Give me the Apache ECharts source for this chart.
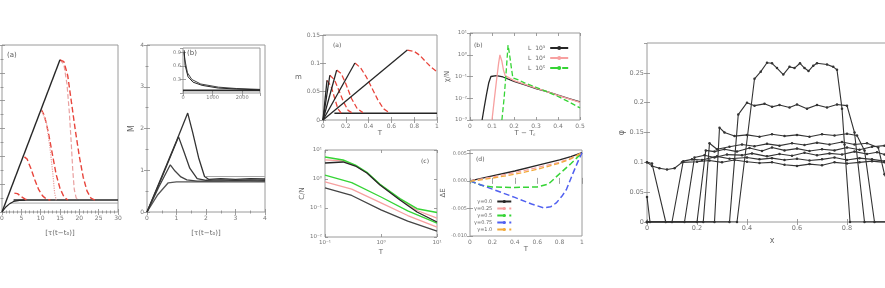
<!DOCTYPE html>
<html><head><meta charset="utf-8">
<script src="https://cdn.jsdelivr.net/npm/echarts@6/dist/echarts.min.js"></script>
<style>html,body{margin:0;padding:0;background:#fff}#c{width:885px;height:288px}</style>
</head><body><div id="c"></div>
<script>
// ---------- DATA ----------
// left panel (a)
const la_rise = [[0,0],[15,5.47]];
const la_low = [[0,0],[1,0.18],[2,0.3],[3,0.38],[4.5,0.42],[6,0.43]];
const la_base = [[3,0.43],[30,0.43]];
const la_gray = [[2,0.32],[30,0.32]];
const la_red1 = [[15,5.47],[16,5.3],[16.8,4.6],[17.4,3.6],[17.9,2.5],[18.3,1.5],[18.7,0.8],[19.2,0.5],[20,0.43]];
const la_red2 = [[15,5.47],[16,5.4],[17,4.9],[18,3.9],[19,2.9],[20,2.0],[21,1.25],[22,0.75],[23,0.5],[24,0.43]];
const la_red3 = [[10.2,3.67],[11,3.45],[12,2.85],[13,2.1],[14,1.35],[15,0.85],[16,0.55],[17,0.43]];
const la_gray3 = [[10.2,3.67],[11.5,3.2],[12.5,2.2],[13.2,1.3],[13.6,0.7],[14,0.43]];
const la_red4 = [[5.8,1.98],[6.5,1.9],[7.5,1.55],[8.5,1.15],[9.5,0.8],[10.5,0.58],[11.5,0.46],[12.5,0.43]];
const la_red5 = [[3.2,0.68],[4,0.66],[5,0.55],[6,0.46],[7,0.43]];
// left panel (b)
const lb1 = [[0,0],[0.5,0.85],[1.0,1.7],[1.38,2.37],[1.55,1.9],[1.75,1.3],[1.95,0.85],[2.1,0.78],[2.5,0.8],[3,0.78],[3.5,0.8],[4,0.79]];
const lb2 = [[0,0],[0.5,0.82],[1.07,1.8],[1.25,1.45],[1.45,1.05],[1.7,0.8],[2.0,0.76],[2.5,0.77],[3,0.76],[3.5,0.77],[4,0.76]];
const lb3 = [[0,0],[0.4,0.6],[0.79,1.13],[0.95,0.98],[1.15,0.84],[1.35,0.77],[1.7,0.74],[2.5,0.74],[3,0.75],[4,0.74]];
const lb4 = [[0,0],[0.35,0.4],[0.72,0.7],[1.0,0.72],[1.5,0.72],[2.5,0.72],[4,0.72]];
const lb_gray = [[2.0,0.85],[4,0.85]];
// inset
const lbi1 = [[40,0.95],[70,0.62],[170,0.36],[340,0.24],[645,0.17],[1190,0.11],[1760,0.09],[2600,0.07]];
const lbi2 = [[30,0.9],[60,0.75],[150,0.45],[300,0.3],[600,0.2],[1200,0.13],[1800,0.1],[2600,0.08]];
const lbi3 = [[0,0.06],[2600,0.06]];
// middle (a)
const ma_b1 = [[0,0],[0.74,0.1235]];
const ma_r1 = [[0.74,0.1235],[0.8,0.121],[0.85,0.114],[0.9,0.103],[0.95,0.093],[1.0,0.085]];
const ma_b2 = [[0,0],[0.28,0.1006]];
const ma_r2 = [[0.28,0.1006],[0.33,0.092],[0.38,0.076],[0.43,0.056],[0.48,0.036],[0.53,0.02],[0.58,0.013]];
const ma_b3 = [[0,0],[0.12,0.088]];
const ma_r3 = [[0.12,0.088],[0.16,0.082],[0.2,0.064],[0.25,0.038],[0.3,0.02],[0.35,0.013]];
const ma_b4 = [[0,0],[0.06,0.079]];
const ma_r4 = [[0.06,0.079],[0.1,0.071],[0.14,0.052],[0.18,0.032],[0.22,0.017],[0.26,0.012]];
const ma_b5 = [[0,0],[0.035,0.07]];
const ma_r5 = [[0.035,0.07],[0.07,0.06],[0.1,0.04],[0.13,0.02],[0.16,0.012]];
const ma_base = [[0.1,0.012],[1.0,0.012]];
// middle (b)
const mb_black = [[0.055,0.001],[0.065,0.004],[0.075,0.015],[0.085,0.05],[0.095,0.1],[0.1,0.117],[0.12,0.11],[0.15,0.095],[0.2,0.06],[0.25,0.041],[0.3,0.028],[0.35,0.02],[0.4,0.0138],[0.45,0.0097],[0.5,0.0068]];
const mb_pink = [[0.1,0.001],[0.11,0.008],[0.12,0.06],[0.13,0.4],[0.136,0.98],[0.145,0.5],[0.152,0.2],[0.16,0.11],[0.2,0.065],[0.25,0.043],[0.3,0.029],[0.35,0.02],[0.4,0.0135],[0.45,0.0094],[0.5,0.0064]];
const mb_green = [[0.145,0.001],[0.155,0.01],[0.165,0.2],[0.173,2.8],[0.18,1.0],[0.188,0.25],[0.195,0.085],[0.22,0.07],[0.25,0.05],[0.3,0.032],[0.35,0.02],[0.4,0.012],[0.45,0.0068],[0.5,0.0036]];
const mb_names = ['L  10³','L  10⁴','L  10⁵'];
// middle (c)
const mc_bk1 = [[0.1,3.56],[0.21,3.86],[0.35,2.8],[0.56,1.61],[0.96,0.62],[2.18,0.19],[4.4,0.073],[10,0.033]];
const mc_pk1 = [[0.1,4.6],[0.21,4.2],[0.35,2.9],[0.56,1.65],[0.96,0.64],[2.18,0.2],[4.4,0.082],[10,0.045]];
const mc_gr1 = [[0.1,5.7],[0.21,4.5],[0.35,3.0],[0.56,1.7],[0.96,0.66],[2.18,0.21],[4.4,0.095],[10,0.07]];
const mc_gr2 = [[0.1,1.37],[0.3,0.75],[1,0.24],[3,0.08],[10,0.03]];
const mc_pk2 = [[0.1,0.79],[0.3,0.45],[1,0.15],[3,0.055],[10,0.022]];
const mc_bk2 = [[0.1,0.49],[0.3,0.27],[1,0.086],[3,0.035],[10,0.016]];
// middle (d)
const md_black = [[0,0],[0.2,0.0009],[0.4,0.0018],[0.6,0.0028],[0.8,0.0038],[0.9,0.0044],[1,0.0051]];
const md_pink = [[0,0],[0.2,0.0007],[0.4,0.0015],[0.6,0.0024],[0.8,0.0034],[0.9,0.0041],[1,0.0051]];
const md_green = [[0,0],[0.1,-0.0008],[0.2,-0.0011],[0.4,-0.0012],[0.6,-0.0011],[0.7,-0.0006],[0.8,0.0013],[0.9,0.0031],[1,0.0051]];
const md_blue = [[0,0],[0.2,-0.0015],[0.4,-0.003],[0.55,-0.0042],[0.66,-0.0049],[0.72,-0.0047],[0.77,-0.004],[0.82,-0.0028],[0.86,-0.0016],[0.92,0.0014],[0.97,0.0038],[1,0.0051]];
const md_orange = [[0,-0.0001],[0.2,0.0005],[0.4,0.0012],[0.6,0.0021],[0.8,0.0032],[0.9,0.004],[1,0.0051]];
const md_names = ['γ=0.0','γ=0.25','γ=0.5','γ=0.75','γ=1.0'];
// right panel
const r_c1 = [[0,0.1],[0.02,0.094],[0.05,0.09],[0.08,0.088],[0.11,0.09],[0.14,0.1],[0.2,0.101],[0.25,0.103],[0.3,0.1],[0.35,0.104],[0.4,0.101],[0.45,0.099],[0.5,0.1],[0.55,0.096],[0.6,0.094],[0.65,0.097],[0.7,0.095],[0.75,0.1],[0.8,0.098],[0.85,0.1],[0.9,0.102],[0.95,0.1],[1.0,0.1]];
const r_a2 = [[0,0.1],[0.02,0.098],[0.075,0],[0.1,0],[0.145,0.102],[0.18,0.105],[0.22,0.104],[0.28,0.11],[0.33,0.106],[0.4,0.108],[0.45,0.105],[0.5,0.107],[0.55,0.104],[0.6,0.106],[0.65,0.103],[0.7,0.105],[0.75,0.108],[0.8,0.104],[0.85,0.107],[0.9,0.105],[0.95,0.102],[1,0.1]];
const r_b = [[0,0],[0.15,0],[0.19,0.108],[0.23,0.112],[0.27,0.108],[0.32,0.113],[0.38,0.112],[0.42,0.115],[0.48,0.11],[0.53,0.114],[0.58,0.111],[0.63,0.116],[0.68,0.112],[0.73,0.115],[0.78,0.113],[0.83,0.118],[0.88,0.114],[0.92,0.117],[0.95,0.113],[1,0.11]];
const r_d = [[0,0],[0.2,0],[0.235,0.12],[0.27,0.118],[0.31,0.122],[0.36,0.118],[0.41,0.124],[0.46,0.119],[0.5,0.125],[0.55,0.12],[0.6,0.123],[0.65,0.119],[0.7,0.122],[0.75,0.12],[0.8,0.125],[0.85,0.121],[0.9,0.126],[0.95,0.128],[1,0.125]];
const r_e = [[0,0.042],[0.012,0],[0.225,0],[0.25,0.132],[0.28,0.122],[0.33,0.126],[0.38,0.13],[0.43,0.127],[0.48,0.131],[0.53,0.128],[0.58,0.132],[0.63,0.129],[0.68,0.133],[0.73,0.13],[0.78,0.134],[0.83,0.13],[0.88,0.132],[0.925,0.125],[0.95,0.08],[0.975,0.05],[1,0.042]];
const r_f = [[0,0],[0.27,0],[0.29,0.158],[0.31,0.15],[0.35,0.144],[0.4,0.146],[0.45,0.143],[0.5,0.147],[0.55,0.144],[0.6,0.146],[0.65,0.143],[0.7,0.147],[0.75,0.145],[0.8,0.148],[0.84,0.145],[0.87,0.12],[0.91,0],[1,0]];
const r_s = [[0,0],[0.33,0],[0.365,0.18],[0.4,0.2],[0.43,0.195],[0.47,0.198],[0.5,0.193],[0.53,0.196],[0.57,0.192],[0.6,0.197],[0.64,0.19],[0.68,0.196],[0.72,0.192],[0.76,0.197],[0.8,0.195],[0.83,0.15],[0.87,0],[1,0]];
const r_t = [[0,0],[0.36,0],[0.43,0.24],[0.455,0.252],[0.48,0.267],[0.5,0.266],[0.52,0.258],[0.545,0.247],[0.57,0.26],[0.59,0.258],[0.612,0.266],[0.63,0.258],[0.646,0.253],[0.665,0.262],[0.68,0.266],[0.72,0.264],[0.745,0.26],[0.76,0.255],[0.78,0.19],[0.79,0.13],[0.812,0],[1,0]];

// ---------- BUILD ----------
const FONT = 'DejaVu Sans';
const grids = [], xAxes = [], yAxes = [], series = [];
const TICK = {color:'#888', width:0.8};
function clean(o){ if(o && typeof o==='object' && !Array.isArray(o)){ for(const k of Object.keys(o)){ if(o[k]===undefined) delete o[k]; else clean(o[k]); } } return o; }
const sup = {'-':'⁻','0':'⁰','1':'¹','2':'²','3':'³','4':'⁴','5':'⁵'};
function logFmt(v){ const e = Math.round(Math.log10(v)); return '10' + String(e).split('').map(c=>sup[c]).join(''); }
function mkAxis(e, showLabel, pos, gi){
  const a = {
    gridIndex: gi, position: pos, type: e.type || 'value',
    min: e.min, max: e.max, interval: e.interval, logBase: e.logBase,
    axisLine: {show:false},
    axisTick: {show:true, inside:true, length:3, lineStyle:TICK},
    splitLine: {show:false},
    axisLabel: {show:showLabel, fontSize: e.fs || 6, color:'#777', margin: e.margin || 3, fontFamily: FONT,
      formatter: e.fmt, showMaxLabel: e.showMax, showMinLabel: e.showMin}
  };
  if (e.minor) a.minorTick = {show:true, splitNumber:e.minor, length:1.5, lineStyle:TICK};
  if (showLabel && e.name) {
    a.name = e.name; a.nameLocation = 'middle'; a.nameGap = e.nameGap;
    a.nameTextStyle = {fontSize: e.nfs || 8, color:'#666', fontFamily: FONT};
    if (e.nameRotate !== undefined) a.nameRotate = e.nameRotate;
  }
  return clean(a);
}
function panel(box, xe, ye){
  const gi = grids.length;
  grids.push({left:box[0], top:box[1], width:box[2], height:box[3], show:true, borderColor:'#9a9a9a', borderWidth:1, containLabel:false, outerBoundsMode:'none'});
  const xi = xAxes.length;
  xAxes.push(mkAxis(xe, true, 'bottom', gi));
  xAxes.push(mkAxis(xe, false, 'top', gi));
  const yi = yAxes.length;
  yAxes.push(mkAxis(ye, true, 'left', gi));
  yAxes.push(mkAxis(ye, false, 'right', gi));
  return {xi, yi};
}
function line(p, data, color, o){
  o = o || {};
  series.push(clean({
    type:'line', name:o.name, xAxisIndex:p.xi, yAxisIndex:p.yi, data:data,
    symbol: o.symbol || 'none', symbolSize: o.ss || 3, showSymbol: !!o.symbol,
    lineStyle:{color:color, width:o.w || 1, type:o.type || 'solid'},
    itemStyle:{color:color}, animation:false, silent:true, z:o.z || 2
  }));
}
const BK = '#262626', RED = '#e8453c', LRED = '#e9a0a0', PINK = '#f7a0a0', GRN = '#35d435', BLU = '#5060f0', ORG = '#f2aa3a', GRY = '#a8a8a8';

// left (a)
const pLA = panel([2,45,116,167],
  {min:0, max:30, interval:5, minor:5, name:'[τ(t−t₀)]', nameGap:18, nfs:7},
  {min:0, max:6, interval:1, minor:2, fmt:()=>''});
line(pLA, la_gray, GRY, {w:1});
line(pLA, la_base, BK, {w:1.4});
line(pLA, la_low, BK, {w:1.2});
line(pLA, la_red1, LRED, {type:'dashed', w:1.2});
line(pLA, la_red2, RED, {type:'dashed', w:1.4});
line(pLA, la_red3, RED, {type:'dashed', w:1.4});
line(pLA, la_gray3, LRED, {type:'dotted', w:1.2});
line(pLA, la_red4, RED, {type:'dashed', w:1.4});
line(pLA, la_red5, RED, {type:'dashed', w:1.4});
line(pLA, la_rise, BK, {w:1.4, z:3});

// left (b)
const pLB = panel([147,45,118,167],
  {min:0, max:4, interval:1, minor:2, name:'[τ(t−t₀)]', nameGap:18, nfs:7},
  {min:0, max:4, interval:1, minor:2, name:'M', nameGap:11, nfs:8});
line(pLB, lb_gray, GRY, {w:1});
line(pLB, lb4, '#555', {w:1.3});
line(pLB, lb3, '#444', {w:1.3});
line(pLB, lb2, '#3a3a3a', {w:1.3});
line(pLB, lb1, '#333', {w:1.3});
// inset
const pLI = panel([183,48,77,45],
  {min:0, max:2600, interval:1000, showMax:false, fs:5, margin:2, fmt:v=>String(v)},
  {min:0, max:1, interval:0.3, showMax:false, showMin:false, fs:5, margin:2});
line(pLI, lbi3, BK, {w:1.8});
line(pLI, lbi2, '#444', {w:1});
line(pLI, lbi1, BK, {w:1});

// middle (a)
const pMA = panel([323,35,114,85],
  {min:0, max:1, interval:0.2, name:'T', nameGap:10, nfs:7},
  {min:0, max:0.15, interval:0.05, name:'m', nameGap:16, nfs:7, nameRotate:0});
line(pMA, ma_base, BK, {w:1.4});
[ma_r1, ma_r2, ma_r3, ma_r4, ma_r5].forEach(d => line(pMA, d, RED, {type:'dashed', w:1.3}));
[ma_b1, ma_b2, ma_b3, ma_b4, ma_b5].forEach(d => line(pMA, d, BK, {w:1.3, z:3}));

// middle (b)
const pMB = panel([470,33,110,87],
  {min:0, max:0.5, interval:0.1, name:'T − T꜀', nameGap:10, nfs:7},
  {type:'log', min:0.001, max:10, logBase:10, fmt:logFmt, fs:5.5, name:'χ/N', nameGap:16, nfs:7});
line(pMB, mb_black, BK, {w:1.3, name:mb_names[0]});
line(pMB, mb_pink, PINK, {w:1.3, name:mb_names[1]});
line(pMB, mb_green, GRN, {w:1.3, type:'dashed', name:mb_names[2]});

// middle (c)
const pMC = panel([325,150,112,87],
  {type:'log', min:0.1, max:10, logBase:10, fmt:logFmt, fs:5.5, name:'T', nameGap:12, nfs:7},
  {type:'log', min:0.01, max:10, logBase:10, fmt:logFmt, fs:5.5, name:'C/N', nameGap:17, nfs:7});
line(pMC, mc_bk2, '#444', {w:1.3});
line(pMC, mc_pk2, PINK, {w:1.3});
line(pMC, mc_gr2, GRN, {w:1.3});
line(pMC, mc_pk1, PINK, {w:1.3});
line(pMC, mc_gr1, GRN, {w:1.5});
line(pMC, mc_bk1, BK, {w:1.3});

// middle (d)
const pMD = panel([470,150,112,86],
  {min:0, max:1, interval:0.2, name:'T', nameGap:10, nfs:7},
  {min:-0.01, max:0.0056, interval:0.005, fmt:v=>v.toFixed(3), showMax:false, fs:5, name:'ΔE', nameGap:20, nfs:7});
line(pMD, md_black, BK, {w:1.4, name:md_names[0]});
line(pMD, md_pink, PINK, {w:1.3, type:'dashed', name:md_names[1]});
line(pMD, md_green, GRN, {w:1.5, type:'dashed', name:md_names[2]});
line(pMD, md_blue, BLU, {w:1.5, type:'dashed', name:md_names[3]});
line(pMD, md_orange, ORG, {w:1.3, type:'dashed', name:md_names[4]});

// right
const pR = panel([647,43,250,179],
  {min:0, max:1, interval:0.2, fs:6.5, name:'x', nameGap:13, nfs:8},
  {min:0, max:0.3, interval:0.05, showMax:false, fs:6.5, name:'φ', nameGap:19, nfs:8});
[r_c1, r_a2, r_b, r_d, r_e, r_f, r_s, r_t].forEach(d => line(pR, d, '#333', {w:1.1, symbol:'circle', ss:2.5}));

const option = {
  backgroundColor:'#fff',
  animation:false,
  grid: grids, xAxis: xAxes, yAxis: yAxes, series: series,
  legend: [
    {data: mb_names, left:528, top:45, orient:'vertical', align:'right', itemWidth:18, itemHeight:5, itemGap:4,
     textStyle:{fontSize:6, color:'#666', fontFamily:FONT}, selectedMode:false, padding:0},
    {data: md_names, left:474, top:199, orient:'vertical', align:'right', itemWidth:14, itemHeight:4, itemGap:2,
     textStyle:{fontSize:5, color:'#666', fontFamily:FONT}, selectedMode:false, padding:0}
  ],
  graphic: [
    {type:'text', left:7, top:52, style:{text:'(a)', fontSize:7, fill:'#555', fontFamily:FONT}},
    {type:'text', left:187, top:50, style:{text:'(b)', fontSize:7, fill:'#555', fontFamily:FONT}},
    {type:'text', left:333, top:42, style:{text:'(a)', fontSize:6, fill:'#555', fontFamily:FONT}},
    {type:'text', left:474, top:42, style:{text:'(b)', fontSize:6, fill:'#555', fontFamily:FONT}},
    {type:'text', left:421, top:158, style:{text:'(c)', fontSize:6, fill:'#555', fontFamily:FONT}},
    {type:'text', left:476, top:156, style:{text:'(d)', fontSize:6, fill:'#555', fontFamily:FONT}}
  ]
};
const chart = echarts.init(document.getElementById('c'), null, {renderer:'canvas'});
chart.setOption(option);
</script></body></html>
